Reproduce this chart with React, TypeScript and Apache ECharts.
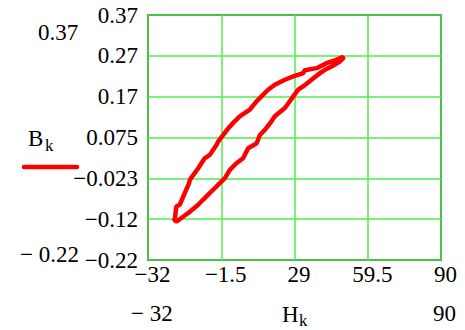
import React, { useEffect, useRef } from "react";
import * as echarts from "echarts";

const xTicks = ["\u221232", "\u22121.5", "29", "59.5", "90"];
const yTicks = ["\u22120.22", "\u22120.12", "\u22120.023", "0.075", "0.17", "0.27", "0.37"];
const xMin = -32;
const xMax = 90;
const yMin = -0.22;
const yMax = 0.37;

// Hysteresis loop B_k vs H_k (upper branch then lower branch back)
const H = [
  -20.9, -20.2, -18.8, -16.7, -14.9, -14.6, -11.1, -8.4, -6.3, -3.5, -2.8, 1.4, 4.1, 6.2, 10.4, 13.2, 18.0, 20.8, 25.0, 28.5, 32.6, 33.3, 38.2, 42.3, 45.8, 49.3,
  49.3, 47.9, 44.4, 41.7, 39.6, 36.1, 32.6, 30.5, 28.5, 25.0, 20.8, 19.4, 16.6, 14.6, 13.2, 9.7, 7.6, 4.8, 2.1, 0.0, -2.1, -5.6, -6.3, -9.1, -11.1, -14.6, -17.4, -20.2, -21.3, -20.9,
];
const B = [
  -0.124, -0.091, -0.087, -0.059, -0.035, -0.027, 0.001, 0.025, 0.033, 0.057, 0.065, 0.097, 0.114, 0.126, 0.142, 0.162, 0.19, 0.202, 0.214, 0.222, 0.23, 0.237, 0.242, 0.254, 0.261, 0.269,
  0.266, 0.258, 0.246, 0.238, 0.23, 0.214, 0.198, 0.19, 0.174, 0.146, 0.126, 0.114, 0.093, 0.081, 0.061, 0.049, 0.025, 0.013, -0.003, -0.023, -0.035, -0.055, -0.059, -0.075, -0.087, -0.104, -0.116, -0.128, -0.12, -0.124,
];

const FONT = "Liberation Serif";
const FS = 23;

const txt = (x: number, y: number, text: string, size = FS) => ({
  type: "text",
  x,
  y,
  style: { text, fontFamily: FONT, fontSize: size, fill: "#000", verticalAlign: "middle" },
});

export default function App() {
  const ref = useRef<HTMLDivElement>(null);
  useEffect(() => {
    if (!ref.current) return;
    const chart = echarts.init(ref.current, null, { renderer: "svg" });
    const xStep = (xMax - xMin) / (xTicks.length - 1);
    const yStep = (yMax - yMin) / (yTicks.length - 1);
    const data = H.map((h, i) => [h - xMin, B[i] - yMin]);
    const green = "#4eee4e";
    chart.setOption({
      animation: false,
      textStyle: { fontFamily: FONT, fontSize: FS },
      grid: {
        left: 148,
        top: 15,
        width: 293,
        height: 245,
        show: true,
        borderColor: "#000",
        borderWidth: 1.5,
        backgroundColor: "transparent",
      },
      xAxis: {
        type: "value",
        min: 0,
        max: xMax - xMin,
        interval: xStep,
        axisLine: { show: false },
        axisTick: { show: false },
        splitLine: { show: true, lineStyle: { color: green, width: 1.5 } },
        axisLabel: {
          fontFamily: FONT,
          fontSize: FS,
          color: "#000",
          margin: 3,
          padding: [0, 0, 0, 9],
          formatter: (v: number) => xTicks[Math.round(v / xStep)] ?? "",
        },
      },
      yAxis: {
        type: "value",
        min: 0,
        max: yMax - yMin,
        interval: yStep,
        axisLine: { show: false },
        axisTick: { show: false },
        splitLine: { show: true, lineStyle: { color: green, width: 1.5 } },
        axisLabel: {
          fontFamily: FONT,
          fontSize: FS,
          color: "#000",
          margin: 10,
          formatter: (v: number) => yTicks[Math.round(v / yStep)] ?? "",
        },
      },
      graphic: [
        txt(38, 32, "0.37"),
        txt(20, 254, "\u2212 0.22"),
        txt(28, 138, "B"),
        txt(45, 145, "k", 17),
        { type: "line", shape: { x1: 24, y1: 167, x2: 77, y2: 167 }, style: { stroke: "#ff0000", lineWidth: 4.5, lineCap: "round" } },
        txt(131, 313.5, "\u2212 32"),
        txt(282, 314.5, "H"),
        txt(299, 320, "k", 17),
        txt(433, 313.5, "90"),
      ],
      series: [
        {
          type: "line",
          data,
          showSymbol: false,
          smooth: false,
          lineStyle: { color: "#ff0000", width: 4.5 },
        },
      ],
    });
    return () => chart.dispose();
  }, []);
  return <div ref={ref} style={{ width: 465, height: 330, position: "absolute", left: 0, top: 0 }} />;
}
